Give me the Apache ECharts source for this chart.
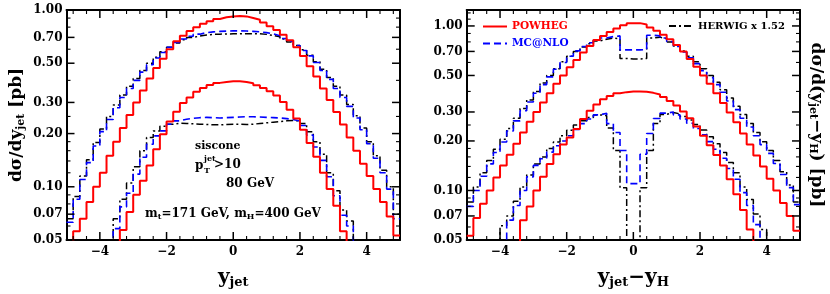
<!DOCTYPE html>
<html><head><meta charset="utf-8">
<script src="https://cdn.jsdelivr.net/npm/echarts@6/dist/echarts.min.js"></script>
<style>html,body{margin:0;padding:0;background:#fff}#c{width:830px;height:294px}</style>
</head><body><div id="c"></div>
<script>
// ---- bins and ticks ----
const binEdges = [-5,-4.8,-4.6,-4.4,-4.2,-4,-3.8,-3.6,-3.4,-3.2,-3,-2.8,-2.6,-2.4,-2.2,-2,-1.8,-1.6,-1.4,-1.2,-1,-0.8,-0.6,-0.4,-0.2,0,0.2,0.4,0.6,0.8,1,1.2,1.4,1.6,1.8,2,2.2,2.4,2.6,2.8,3,3.2,3.4,3.6,3.8,4,4.2,4.4,4.6,4.8,5];
const xTickLabels = [-4,-2,0,2,4];
const xMinorTicks = [-4.8,-4.4,-3.6,-3.2,-2.8,-2.4,-1.6,-1.2,-0.8,-0.4,0.4,0.8,1.2,1.6,2.4,2.8,3.2,3.6,4.4,4.8];
const yTickLabels = [0.05,0.07,0.1,0.2,0.3,0.5,0.7,1.0];
const yMinorTicks = [0.06,0.08,0.09,0.12,0.14,0.16,0.18,0.25,0.4,0.6,0.8,0.9,1.1,1.2];

// ---- left panel: d sigma / d y_jet ----
const L_POWHEG_HIGH = [0.045,0.056,0.066,0.082,0.100,0.120,0.150,0.180,0.215,0.255,0.300,0.350,0.410,0.470,0.530,0.600,0.665,0.715,0.760,0.800,0.835,0.865,0.890,0.910,0.920,0.925,0.920,0.900,0.880,0.850,0.810,0.770,0.725,0.675,0.615,0.550,0.480,0.420,0.360,0.310,0.265,0.225,0.190,0.160,0.135,0.115,0.097,0.082,0.068,0.053];
const L_MCNLO_HIGH = [0.063,0.085,0.110,0.137,0.170,0.205,0.240,0.280,0.320,0.360,0.400,0.445,0.490,0.535,0.575,0.615,0.655,0.685,0.710,0.730,0.745,0.752,0.757,0.760,0.762,0.762,0.760,0.757,0.752,0.745,0.733,0.715,0.690,0.665,0.630,0.590,0.550,0.505,0.455,0.405,0.360,0.320,0.285,0.245,0.210,0.175,0.145,0.120,0.097,0.066];
const L_HERWIG_HIGH = [0.066,0.088,0.115,0.142,0.178,0.212,0.250,0.290,0.330,0.370,0.410,0.455,0.500,0.540,0.580,0.615,0.650,0.678,0.700,0.712,0.722,0.728,0.730,0.732,0.733,0.733,0.735,0.735,0.733,0.728,0.718,0.705,0.685,0.660,0.630,0.595,0.555,0.510,0.462,0.415,0.370,0.330,0.292,0.252,0.215,0.180,0.150,0.124,0.100,0.070];
const L_POWHEG_LOW = [0.03,0.03,0.03,0.03,0.03,0.03,0.03,0.04,0.057,0.072,0.090,0.108,0.132,0.163,0.198,0.234,0.266,0.298,0.320,0.345,0.362,0.377,0.387,0.392,0.395,0.395,0.392,0.385,0.375,0.362,0.347,0.328,0.302,0.273,0.243,0.210,0.177,0.148,0.120,0.097,0.078,0.056,0.040,0.03,0.03,0.03,0.03,0.03,0.03,0.03];
const L_MCNLO_LOW = [0.03,0.03,0.03,0.03,0.03,0.03,0.03,0.058,0.077,0.092,0.118,0.147,0.174,0.194,0.207,0.226,0.236,0.241,0.244,0.246,0.247,0.246,0.245,0.246,0.247,0.248,0.249,0.249,0.248,0.247,0.246,0.245,0.243,0.240,0.235,0.222,0.196,0.168,0.141,0.114,0.089,0.069,0.060,0.03,0.03,0.03,0.03,0.03,0.03,0.03];
const L_HERWIG_LOW = [0.03,0.03,0.03,0.03,0.03,0.03,0.03,0.066,0.085,0.105,0.130,0.160,0.190,0.207,0.220,0.226,0.229,0.228,0.227,0.226,0.225,0.224,0.224,0.225,0.226,0.226,0.225,0.226,0.228,0.230,0.232,0.234,0.236,0.237,0.236,0.228,0.205,0.180,0.153,0.120,0.095,0.074,0.064,0.03,0.03,0.03,0.03,0.03,0.03,0.03];

// ---- right panel: d sigma / d(y_jet - y_H) ----
const R_POWHEG_HIGH = [0.053,0.068,0.083,0.100,0.120,0.142,0.165,0.192,0.225,0.262,0.300,0.342,0.390,0.445,0.500,0.560,0.620,0.690,0.755,0.820,0.870,0.920,0.965,1.010,1.040,1.040,1.020,0.980,0.935,0.885,0.830,0.765,0.700,0.630,0.565,0.500,0.445,0.390,0.340,0.298,0.260,0.222,0.190,0.163,0.140,0.118,0.100,0.084,0.070,0.057];
const R_MCNLO_HIGH = [0.080,0.100,0.122,0.145,0.170,0.197,0.230,0.265,0.305,0.345,0.390,0.440,0.490,0.545,0.600,0.655,0.705,0.750,0.790,0.820,0.845,0.862,0.870,0.715,0.715,0.715,0.718,0.878,0.870,0.845,0.805,0.750,0.695,0.640,0.590,0.535,0.485,0.440,0.395,0.350,0.310,0.275,0.243,0.215,0.190,0.168,0.146,0.125,0.104,0.082];
const R_HERWIG_HIGH = [0.085,0.105,0.128,0.152,0.178,0.205,0.238,0.275,0.315,0.355,0.400,0.450,0.500,0.550,0.605,0.655,0.700,0.745,0.780,0.810,0.830,0.845,0.835,0.635,0.630,0.630,0.635,0.845,0.855,0.835,0.800,0.755,0.705,0.655,0.605,0.550,0.500,0.455,0.410,0.365,0.325,0.290,0.255,0.225,0.198,0.175,0.152,0.130,0.108,0.085];
const R_POWHEG_LOW = [0.03,0.03,0.03,0.03,0.03,0.03,0.03,0.03,0.066,0.080,0.100,0.121,0.145,0.166,0.190,0.210,0.236,0.272,0.305,0.333,0.358,0.375,0.390,0.396,0.400,0.400,0.398,0.392,0.383,0.370,0.350,0.328,0.302,0.275,0.245,0.215,0.188,0.164,0.142,0.117,0.095,0.076,0.058,0.03,0.03,0.03,0.03,0.03,0.03,0.03];
const R_MCNLO_LOW = [0.03,0.03,0.03,0.03,0.03,0.03,0.066,0.081,0.100,0.121,0.142,0.156,0.171,0.187,0.200,0.215,0.235,0.255,0.272,0.288,0.295,0.255,0.225,0.175,0.110,0.110,0.166,0.222,0.274,0.295,0.300,0.288,0.272,0.256,0.238,0.218,0.198,0.178,0.157,0.136,0.117,0.097,0.081,0.062,0.03,0.03,0.03,0.03,0.03,0.03];
const R_HERWIG_LOW = [0.03,0.03,0.03,0.03,0.03,0.061,0.070,0.086,0.105,0.124,0.145,0.160,0.180,0.197,0.215,0.232,0.250,0.265,0.278,0.288,0.285,0.240,0.175,0.104,0.03,0.03,0.104,0.175,0.255,0.290,0.298,0.292,0.282,0.268,0.252,0.233,0.212,0.192,0.170,0.148,0.128,0.105,0.088,0.072,0.058,0.03,0.03,0.03,0.03,0.03];

const X_MIN = -5, X_MAX = 5;
const Y_MIN = 0.05, Y_MAX_LEFT = 1.0, Y_MAX_RIGHT = 1.25;

// ---- styling ----
const FONT = '"DejaVu Serif"';
const RED = '#ff0000', BLUE = '#0000ff', BLACK = '#000000';
const DASH_MC = [7, 4], DASH_HW = [7, 3, 2, 3];
const MAJOR_LEN = 8, MINOR_LEN = 4, MAJOR_W = 1.5, MINOR_W = 1.1;
const GRIDS = [
  {left: 66.5, top: 10, width: 333.5, height: 231.7},
  {left: 466.7, top: 10, width: 333.3, height: 231.7}
];
const lbl = {color: '#000', fontFamily: FONT, fontWeight: 'bold', fontSize: 12};
const nameRich = {
  b: {fontFamily: FONT, fontWeight: 'bold', fontSize: 17, color: '#000'},
  s: {fontFamily: FONT, fontWeight: 'bold', fontSize: 11, color: '#000', verticalAlign: 'bottom', padding: [8, 0, 0, 0]},
  x: {fontFamily: FONT, fontWeight: 'bold', fontSize: 20, color: '#000'},
  xs: {fontFamily: FONT, fontWeight: 'bold', fontSize: 13, color: '#000', padding: [9, 0, 0, 0]}
};

function hist(vals) { return binEdges.map((e, i) => [e, vals[Math.min(i, vals.length - 1)]]); }

const frameLine = {show: true, onZero: false, lineStyle: {color: '#000', width: 2}};

function xAxesFor(g, name) {
  return [
    {gridIndex: g, type: 'value', min: X_MIN, max: X_MAX, position: 'bottom', splitLine: {show: false},
      axisLine: frameLine, axisTick: {show: false},
      axisLabel: Object.assign({show: true, margin: 6, customValues: xTickLabels,
        formatter: v => String(v).replace('-', '\u2212')}, lbl),
      name: name, nameLocation: 'middle', nameGap: 27, nameMoveOverlap: false,
      nameTextStyle: {rich: nameRich}},
    {gridIndex: g, type: 'value', min: X_MIN, max: X_MAX, position: 'top', splitLine: {show: false},
      axisLine: frameLine, axisTick: {show: false}, axisLabel: {show: false}}
  ];
}

function yAxesFor(g, ymax, leftName, rightName) {
  const lmin = Math.log10(Y_MIN), lmax = Math.log10(ymax);
  const major = yTickLabels.map(v => Math.log10(v));
  const axes = [
    // data axis (logarithmic), carries every histogram; its own decorations are switched off
    {gridIndex: g, type: 'log', logBase: 10, min: Y_MIN, max: ymax, position: 'left',
      axisLine: {show: false, onZero: false}, axisTick: {show: false}, axisLabel: {show: false}, splitLine: {show: false}},
    // label / frame axes in log10 space (same mapping as the log axis)
    {gridIndex: g, type: 'value', min: lmin, max: lmax, position: 'left', splitLine: {show: false},
      axisLine: frameLine, axisTick: {show: false},
      axisLabel: Object.assign({show: true, margin: 4, customValues: major,
        formatter: v => Math.pow(10, v).toFixed(2)}, lbl)},
    {gridIndex: g, type: 'value', min: lmin, max: lmax, position: 'right', splitLine: {show: false},
      axisLine: frameLine, axisTick: {show: false}, axisLabel: {show: false}}
  ];
  if (leftName) Object.assign(axes[1], {name: leftName, nameLocation: 'middle', nameGap: 40, nameRotate: 90, nameMoveOverlap: false, nameTextStyle: {rich: nameRich}});
  if (rightName) Object.assign(axes[2], {name: rightName, nameLocation: 'middle', nameGap: 7, nameRotate: -90, nameMoveOverlap: false, nameTextStyle: {rich: nameRich}});
  return axes;
}

function hs(name, vals, xi, yi, color, width, dash, z) {
  return {type: 'line', name: name, xAxisIndex: xi, yAxisIndex: yi, data: hist(vals), step: 'end',
    symbol: 'none', showSymbol: false, clip: true, silent: true, z: z,
    lineStyle: {color: color, width: width, type: dash}, itemStyle: {color: color}};
}

const P = 'POWHEG', M = 'MC@NLO', H = 'HERWIG x 1.52';
// axis indices: grid0 -> x 0,1 / y 0,1,2 ; grid1 -> x 2,3 / y 3,4,5
const series = [
  hs(H, L_HERWIG_HIGH, 0, 0, BLACK, 1.5, DASH_HW, 2),
  hs(H, L_HERWIG_LOW, 0, 0, BLACK, 1.5, DASH_HW, 2),
  hs(M, L_MCNLO_HIGH, 0, 0, BLUE, 1.6, DASH_MC, 3),
  hs(M, L_MCNLO_LOW, 0, 0, BLUE, 1.6, DASH_MC, 3),
  hs(P, L_POWHEG_HIGH, 0, 0, RED, 2, 'solid', 4),
  hs(P, L_POWHEG_LOW, 0, 0, RED, 2, 'solid', 4),
  hs(H, R_HERWIG_HIGH, 2, 3, BLACK, 1.5, DASH_HW, 2),
  hs(H, R_HERWIG_LOW, 2, 3, BLACK, 1.5, DASH_HW, 2),
  hs(M, R_MCNLO_HIGH, 2, 3, BLUE, 1.6, DASH_MC, 3),
  hs(M, R_MCNLO_LOW, 2, 3, BLUE, 1.6, DASH_MC, 3),
  hs(P, R_POWHEG_HIGH, 2, 3, RED, 2, 'solid', 4),
  hs(P, R_POWHEG_LOW, 2, 3, RED, 2, 'solid', 4)
];

const txt = (t, x, y, size) => ({type: 'text', left: x, top: y, silent: true,
  style: {text: t, fill: '#000', font: 'bold ' + size + 'px ' + FONT}});
const smallRich = {
  n: {fontFamily: FONT, fontWeight: 'bold', fontSize: 12, color: '#000'},
  sb: {fontFamily: FONT, fontWeight: 'bold', fontSize: 8, color: '#000', padding: [6, 0, 0, 0]}
};
const textEls = [
  txt('siscone', 195, 141, 11),
  txt('p', 195, 160, 12),
  txt('jet', 204, 155, 8),
  txt('T', 204, 167, 8),
  txt('>10', 214, 159, 12),
  txt('80 GeV', 226, 178, 12),
  {type: 'text', left: 145, top: 208, silent: true,
   style: {text: '{n|m}{sb|t}{n|=171 GeV, m}{sb|H}{n|=400 GeV}', rich: smallRich}}
];
const legendText = {fontFamily: FONT, fontWeight: 'bold', fontSize: 10.5};

const option = {
  animation: false,
  backgroundColor: '#fff',
  grid: GRIDS,
  xAxis: [].concat(xAxesFor(0, '{x|y}{xs|jet}'), xAxesFor(1, '{x|y}{xs|jet}{x|\u2212y}{xs|H}')),
  yAxis: [].concat(
    yAxesFor(0, Y_MAX_LEFT, '{b|d\u03c3/dy}{s|jet}{b| [pb]}', null),
    yAxesFor(1, Y_MAX_RIGHT, null, '{b|d\u03c3/d(y}{s|jet}{b|\u2212y}{s|H}{b|) [pb]}')),
  legend: [
    {data: [{name: P, textStyle: {color: RED}}, {name: M, textStyle: {color: BLUE}}],
     orient: 'vertical', left: 482, top: 21, padding: 0, itemWidth: 24, itemHeight: 12, itemGap: 6, selectedMode: false,
     itemStyle: {opacity: 0}, textStyle: legendText},
    {data: [{name: H, textStyle: {color: BLACK}}], left: 668, top: 21, padding: 0, itemWidth: 24, itemHeight: 12, selectedMode: false,
     itemStyle: {opacity: 0}, textStyle: Object.assign({}, legendText, {fontSize: 10})}
  ],
  series: series
};
const chart = echarts.init(document.getElementById('c'));
chart.setOption(option);

// inward tick marks, positioned through the visible axes' own scales (convertToPixel);
// the label axes work in log10 space, so tick values are converted with log10.
const tickEls = [];
const seg = (x1, y1, x2, y2, w) => ({type: 'line', silent: true, z: 100,
  shape: {x1: x1, y1: y1, x2: x2, y2: y2}, style: {stroke: '#000', lineWidth: w}});
function px(g, x, yVal) {
  try {
    const p = chart.convertToPixel({xAxisIndex: g * 2, yAxisIndex: g * 3 + 1}, [x, Math.log10(yVal)]);
    if (p && isFinite(p[0]) && isFinite(p[1])) return p;
  } catch (e) {}
  return null;
}
const xT = xTickLabels.map(v => [v, MAJOR_LEN, MAJOR_W]).concat(xMinorTicks.map(v => [v, MINOR_LEN, MINOR_W]));
[[0, Y_MAX_LEFT], [1, Y_MAX_RIGHT]].forEach(([g, ymax]) => {
  const yT = yTickLabels.map(v => [v, MAJOR_LEN, MAJOR_W]).concat(yMinorTicks.map(v => [v, MINOR_LEN, MINOR_W]))
    .filter(d => d[0] <= ymax);
  yT.forEach(([v, len, w]) => {
    const a = px(g, X_MIN, v), b = px(g, X_MAX, v);
    if (a && b) tickEls.push(seg(a[0], a[1], a[0] + len, a[1], w), seg(b[0], b[1], b[0] - len, b[1], w));
  });
  xT.forEach(([v, len, w]) => {
    const a = px(g, v, Y_MIN), b = px(g, v, ymax);
    if (a && b) tickEls.push(seg(a[0], a[1], a[0], a[1] - len, w), seg(b[0], b[1], b[0], b[1] + len, w));
  });
});
chart.setOption({graphic: textEls.concat(tickEls)});
</script></body></html>
